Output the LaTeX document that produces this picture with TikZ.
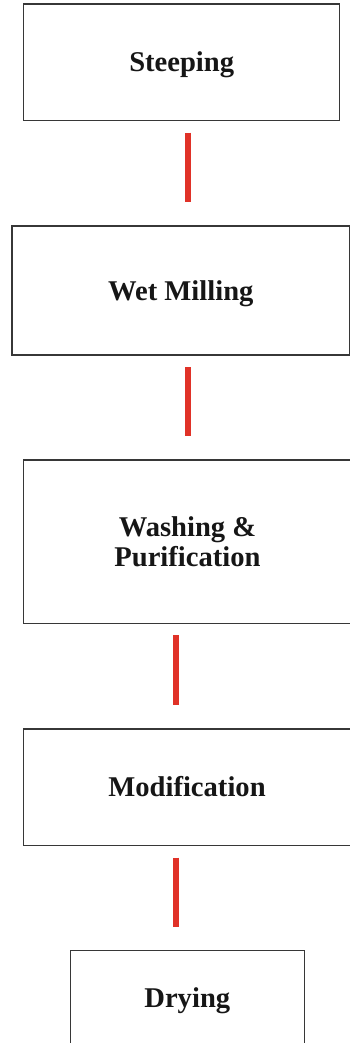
\documentclass[tikz,border=0pt]{standalone}
\usepackage{fontspec}
\setmainfont{Liberation Serif}
\usetikzlibrary{calc}
\definecolor{stepline}{RGB}{55,55,55}
\definecolor{steptext}{RGB}{22,22,22}
\definecolor{linkred}{RGB}{224,50,40}
\tikzset{
  stage/.style={draw=stepline, line width=1.5pt, rectangle, inner sep=0pt, outer sep=0pt,
    text=steptext, align=center,
    font=\fontsize{28.6}{30.3}\selectfont\bfseries,
    text height=19pt, text depth=0pt},
  twoline/.style={text height=49.3pt, text depth=0pt},
  link/.style={draw=linkred, line width=6pt, line cap=butt,
    shorten <=12pt, shorten >=23.7pt}
}
\begin{document}
\begin{tikzpicture}[x=1pt, y=-1pt]
  \useasboundingbox (0,0) rectangle (349,1043);

  \node[stage, minimum width=316pt, minimum height=116.7pt] (steep) at (181.7,62.35) {Steeping};
  \node[stage, minimum width=337.6pt, minimum height=129pt] (wet) at (180.8,290.5) {Wet Milling};
  \node[stage, twoline, minimum width=327.6pt, minimum height=163.3pt] (wash) at (187.5,541.65) {Washing \&\\Purification};
  \node[stage, minimum width=326.6pt, minimum height=116.7pt] (modif) at (187,787.35) {Modification};
  \node[stage, minimum width=234pt, minimum height=93.6pt] (dry) at (187.3,997.5) {Drying};

  % connectors sit slightly off the box centres
  \coordinate (colA) at (187.5,0);
  \coordinate (colB) at (176,0);

  \draw[link] (steep.south -| colA) -- (wet.north -| colA);
  \draw[link] (wet.south -| colA) -- (wash.north -| colA);
  \draw[link] (wash.south -| colB) -- (modif.north -| colB);
  \draw[link] (modif.south -| colB) -- (dry.north -| colB);
\end{tikzpicture}
\end{document}
